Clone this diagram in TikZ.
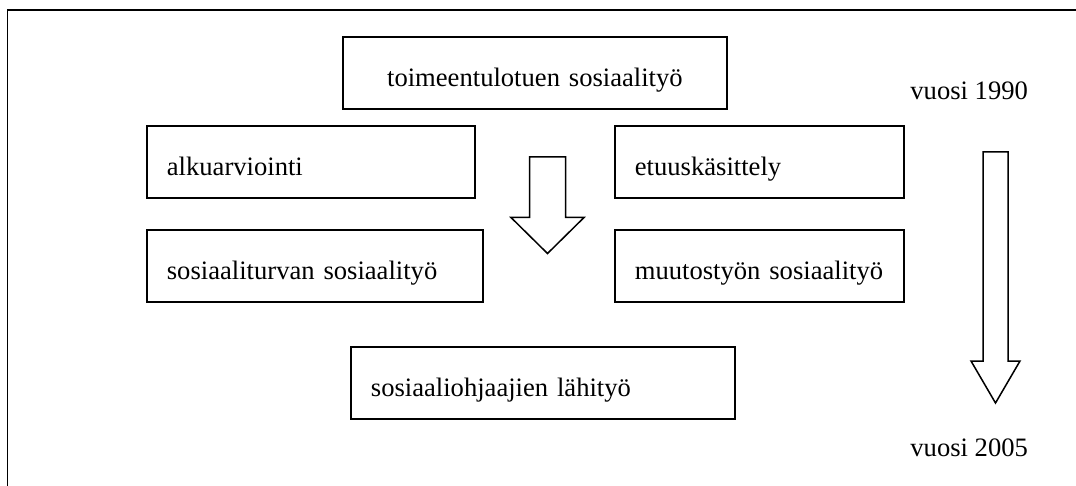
\documentclass[tikz,border=0pt]{standalone}
\usepackage{fontspec}
\setmainfont{Liberation Serif}

\tikzset{
  every node/.style={font=\fontsize{13.3pt}{16pt}\selectfont},
  box/.style={draw, line width=0.9pt, anchor=north west, inner xsep=10pt,
    inner ysep=0pt, text height=25pt, text depth=11pt, align=left},
  year/.style={anchor=base west, inner sep=0pt},
  blockarrow/.style={draw, line width=0.75pt}
}

\begin{document}
\begin{tikzpicture}[x=0.5pt,y=-0.5pt]
  \useasboundingbox (0,0) rectangle (1076,486);
  \draw[line width=0.9pt] (7.5,486) -- (7.5,10) -- (1076,10);
  \node[box, text width=172pt, align=center] (toimeentulo) at (342,36) {toimeentulotuen sosiaalityö};
  \node[box, text width=144pt] (alku) at (146,125) {alkuarviointi};
  \node[box, text width=124.5pt] (etuus) at (614,125) {etuuskäsittely};
  \node[box, text width=148pt] (turva) at (146,229) {sosiaaliturvan sosiaalityö};
  \node[box, text width=124.5pt] (muutos) at (614,229) {muutostyön sosiaalityö};
  \node[box, text width=172pt] (lahi) at (350,346) {sosiaaliohjaajien lähityö};
  \node[year] (v1990) at (910,100) {vuosi 1990};
  \node[year] (v2005) at (910,456.5) {vuosi 2005};
  \draw[blockarrow] (529.5,157) -- (565.5,157) -- (565.5,217.5) -- (584,217.5)
    -- (547.5,253.5) -- (511,217.5) -- (529.5,217.5) -- cycle;
  \draw[blockarrow] (983,152) -- (1008,152) -- (1008,361) -- (1020,361)
    -- (995.5,403) -- (971,361) -- (983,361) -- cycle;
\end{tikzpicture}
\end{document}
